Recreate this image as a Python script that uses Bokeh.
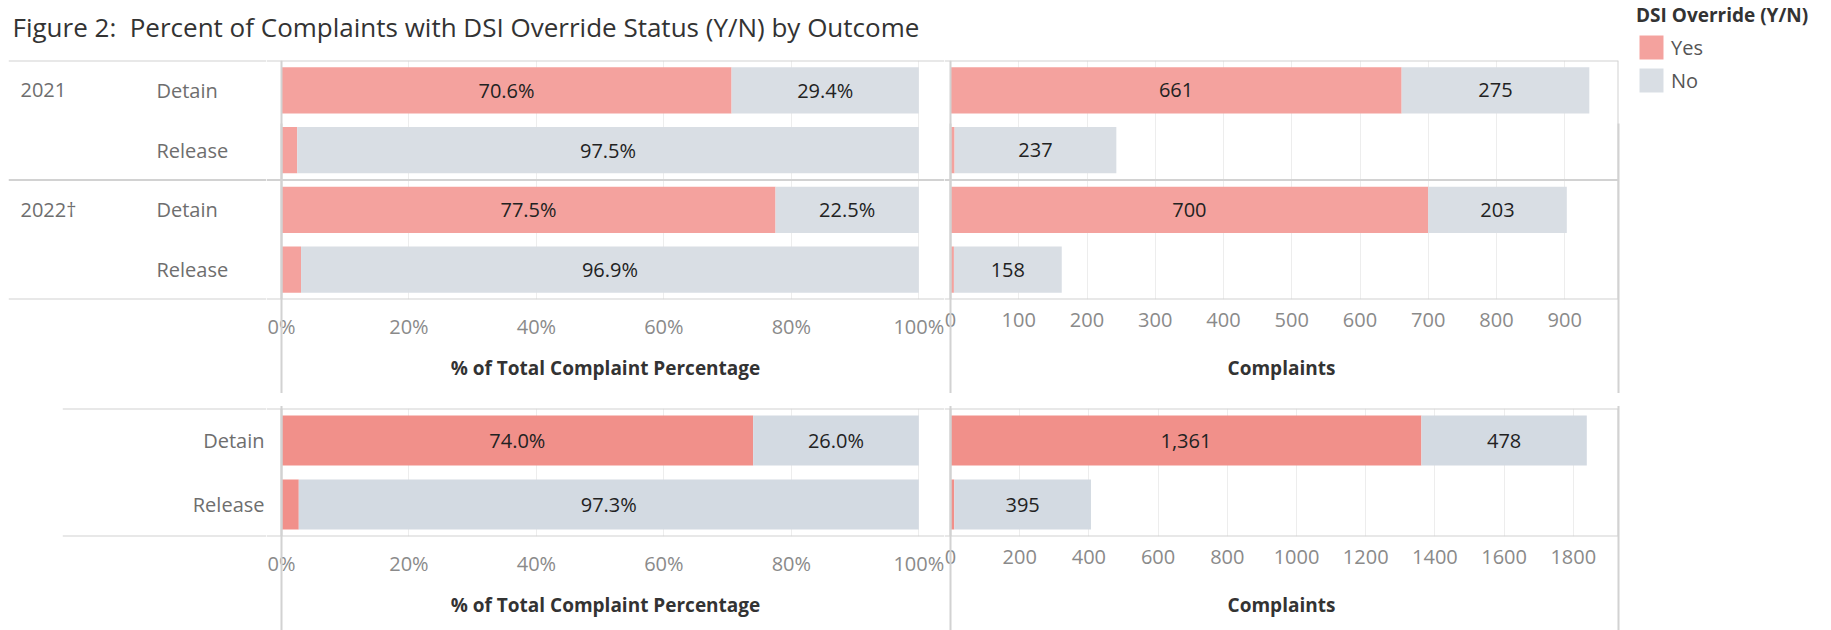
from bokeh.plotting import figure
from bokeh.models import (FactorRange, Range1d, Span, LinearAxis, FixedTicker,
                          PrintfTickFormatter, CustomJSTickFormatter, Legend, LegendItem,
                          ColumnDataSource, Spacer, Grid)
from bokeh.layouts import row, column
from bokeh.core.properties import value
from bokeh.embed import file_html
from bokeh.resources import INLINE

# ---------------- data ----------------
years = ["2021", "2022\u2020"]
outcomes = ["Detain", "Release"]
yes_2021 = [661, 6]
no_2021 = [275, 237]
yes_2022 = [700, 5]
no_2022 = [203, 158]
yes_all = [1361, 11]
no_all = [478, 395]

pct_ticks = [0, 20, 40, 60, 80, 100]
count_ticks_top = [0, 100, 200, 300, 400, 500, 600, 700, 800, 900]
count_ticks_bottom = [0, 200, 400, 600, 800, 1000, 1200, 1400, 1600, 1800]

title_text = "Figure 2:\u00a0 Percent of Complaints with DSI Override Status (Y/N) by Outcome"
legend_title = "DSI Override (Y/N)"
legend_labels = ["Yes", "No"]
pct_axis_title = "% of Total Complaint Percentage"
count_axis_title = "Complaints"

# ---------------- style ----------------
FONT = "Open Sans"
YES_TOP, NO_TOP = "#F4A29E", "#D9DEE4"
YES_BOT, NO_BOT = "#F1908A", "#D3DAE2"
LINE = "#D2D2D2"
GRID = "#EDEDED"
LABEL_GRAY = "#6E6E6E"
TICK_GRAY = "#8A8A8A"
DARK = "#333333"

# ---------------- geometry (layout only) ----------------
TOP_H, BOT_H, AX_H = 240, 129, 93
HDR_W = 266                # header column width (page x 0..266)
PX_PER_PCT = 6.373
PCT_START = -15 / PX_PER_PCT   # 0% sits at page x 281
PCT_END = 663 / PX_PER_PCT
CNT_PX_TOP = 0.6825
CNT_PX_BOT = 0.346


def base_fig(width, height, x_range, y_range, left=0, right=0, top=2, bottom=0):
    return figure(width=width, height=height, x_range=x_range, y_range=y_range,
                  output_backend="svg", toolbar_location=None,
                  x_axis_type=None, y_axis_type=None,
                  min_border_left=left, min_border_right=right,
                  min_border_top=top, min_border_bottom=bottom,
                  outline_line_color=None, background_fill_color="white",
                  border_fill_color="white")


def hlines(p, locs):
    for v in locs:
        p.add_layout(Span(location=v, dimension="width", line_color=LINE, line_width=2))


def vlines(p, locs):
    for v in locs:
        p.add_layout(Span(location=v, dimension="height", line_color=LINE, line_width=2))


def x_axis(p, ticks, label, bounds, edges, percent, label_standoff):
    ax = LinearAxis(ticker=FixedTicker(ticks=ticks),
                    bounds=bounds, axis_label=label,
                    axis_line_color=None, major_tick_line_color=None,
                    major_tick_in=0, major_tick_out=0,
                    minor_tick_line_color=None, minor_tick_in=0, minor_tick_out=0,
                    major_label_standoff=13,
                    major_label_text_font=FONT, major_label_text_font_size="20px",
                    major_label_text_color=TICK_GRAY,
                    axis_label_standoff=label_standoff,
                    axis_label_text_font=FONT, axis_label_text_font_size="19px",
                    axis_label_text_font_style="bold", axis_label_text_color=DARK)
    if percent:
        ax.formatter = PrintfTickFormatter(format="%d%%")
    p.add_layout(ax, "below")
    # pane borders running down through the axis area
    edge_ax = LinearAxis(ticker=FixedTicker(ticks=edges, minor_ticks=[]),
                         formatter=CustomJSTickFormatter(code="return ''"),
                         axis_line_color=None,
                         major_tick_in=260, major_tick_out=10,
                         major_tick_line_color=LINE, major_tick_line_width=2,
                         minor_tick_line_color=None, minor_tick_in=0, minor_tick_out=0,
                         major_label_standoff=0, major_label_text_font_size="0px")
    p.add_layout(edge_ax, "below")
    p.add_layout(Grid(dimension=0, ticker=FixedTicker(ticks=ticks),
                      grid_line_color=GRID, grid_line_width=1))


def add_bars(p, factors, yes, no, mode, yes_color, no_color, bar_h):
    tot = [a + b for a, b in zip(yes, no)]
    if mode == "pct":
        yv = [100.0 * a / t for a, t in zip(yes, tot)]
        nv = [100.0 * b / t for b, t in zip(no, tot)]
        fmt = lambda v: f"{v:.1f}%"
    else:
        yv, nv = list(yes), list(no)
        fmt = lambda v: f"{v:,}"
    ends = [a + b for a, b in zip(yv, nv)]
    src = ColumnDataSource(dict(y=factors, yes_end=yv, no_end=ends))
    p.hbar(y="y", left=0, right="yes_end", height=bar_h, fill_color=yes_color,
           line_color=None, source=src)
    p.hbar(y="y", left="yes_end", right="no_end", height=bar_h, fill_color=no_color,
           line_color=None, source=src)
    lx, ly, lt = [], [], []
    for f, a, b, t, y_, n_ in zip(factors, yes, no, tot, yv, nv):
        if a / t >= 0.1:
            lx.append(y_ / 2.0); ly.append(f); lt.append(fmt(y_))
        if b / t >= 0.1:
            lx.append(y_ + n_ / 2.0); ly.append(f); lt.append(fmt(n_))
    lab = ColumnDataSource(dict(x=lx, y=ly, text=lt))
    p.text(x="x", y="y", text="text", source=lab, text_align="center",
           text_baseline="middle", text_font=value(FONT), text_font_size="20px",
           text_color="#222222")


def label_text(p, xs, ys, texts, align):
    p.text(x=xs, y=ys, text=texts, text_align=align, text_baseline="middle",
           text_font=value(FONT), text_font_size="20px", text_color=LABEL_GRAY)


# ---------------- title ----------------
tf = base_fig(1620, 58, Range1d(0, 1620), Range1d(0, 58), top=0)
tf.text(x=[12], y=[32], text=[title_text], text_align="left", text_baseline="middle",
        text_font=value(FONT), text_font_size="26px", text_color=DARK)

# ---------------- top section (by year) ----------------
top_factors = [(y, o) for y in years for o in outcomes]
top_range = list(reversed(top_factors))
top_yes = yes_2021 + yes_2022
top_no = no_2021 + no_2022

hdr = base_fig(HDR_W, 2 + TOP_H + AX_H, Range1d(8, HDR_W),
               FactorRange(factors=top_range, group_padding=0, range_padding=0),
               left=8, bottom=AX_H)
hlines(hdr, [0, 2, 4])
label_text(hdr, [20] * len(years), [(y, outcomes[0]) for y in years], years, "left")
label_text(hdr, [156] * len(top_factors), top_factors, [f[1] for f in top_factors], "left")

pct_top = base_fig(944 - HDR_W, 2 + TOP_H + AX_H, Range1d(PCT_START, PCT_END),
                   FactorRange(factors=top_range, group_padding=0, range_padding=0),
                   bottom=AX_H)
add_bars(pct_top, top_factors, top_yes, top_no, "pct", YES_TOP, NO_TOP, 0.77)
x_axis(pct_top, pct_ticks, pct_axis_title, (0, PCT_END), [0], True, 12)
hlines(pct_top, [0, 2, 4])
vlines(pct_top, [0])

cnt_end_top = 668 / CNT_PX_TOP
cnt_top = base_fig(676, 2 + TOP_H + AX_H, Range1d(-6 / CNT_PX_TOP, cnt_end_top),
                   FactorRange(factors=top_range, group_padding=0, range_padding=0),
                   right=2, bottom=AX_H)
add_bars(cnt_top, top_factors, top_yes, top_no, "count", YES_TOP, NO_TOP, 0.77)
x_axis(cnt_top, count_ticks_top, count_axis_title, (0, cnt_end_top),
       [0, cnt_end_top], False, 25)
hlines(cnt_top, [0, 2, 4])
vlines(cnt_top, [0, cnt_end_top])

# ---------------- bottom section (all years) ----------------
bot_range = list(reversed(outcomes))

hdr_bot = base_fig(HDR_W - 62, 2 + BOT_H + AX_H, Range1d(62, HDR_W),
                   FactorRange(factors=bot_range, range_padding=0), bottom=AX_H)
hlines(hdr_bot, [0, 2])
label_text(hdr_bot, [HDR_W - 2] * len(outcomes), outcomes, outcomes, "right")

pct_bot = base_fig(944 - HDR_W, 2 + BOT_H + AX_H, Range1d(PCT_START, PCT_END),
                   FactorRange(factors=bot_range, range_padding=0), bottom=AX_H)
add_bars(pct_bot, outcomes, yes_all, no_all, "pct", YES_BOT, NO_BOT, 0.78)
x_axis(pct_bot, pct_ticks, pct_axis_title, (0, PCT_END), [0], True, 12)
hlines(pct_bot, [0, 2])
vlines(pct_bot, [0])

cnt_end_bot = 668 / CNT_PX_BOT
cnt_bot = base_fig(676, 2 + BOT_H + AX_H, Range1d(-6 / CNT_PX_BOT, cnt_end_bot),
                   FactorRange(factors=bot_range, range_padding=0),
                   right=2, bottom=AX_H)
add_bars(cnt_bot, outcomes, yes_all, no_all, "count", YES_BOT, NO_BOT, 0.78)
x_axis(cnt_bot, count_ticks_bottom, count_axis_title, (0, cnt_end_bot),
       [0, cnt_end_bot], False, 25)
hlines(cnt_bot, [0, 2])
vlines(cnt_bot, [0, cnt_end_bot])

# ---------------- legend ----------------
lf = base_fig(211, 630, Range1d(0, 1), Range1d(0, 1), left=16, top=2)
# legend proxies, kept outside the visible range
r_yes = lf.hbar(y=[-5], left=[0], right=[1], height=1, fill_color=YES_TOP, line_color=None)
r_no = lf.hbar(y=[-5], left=[0], right=[1], height=1, fill_color=NO_TOP, line_color=None)
leg = Legend(items=[LegendItem(label=legend_labels[0], renderers=[r_yes]),
                    LegendItem(label=legend_labels[1], renderers=[r_no])],
             location="top_left", margin=0, padding=0,
             title=legend_title, title_text_font=FONT, title_text_font_size="19px",
             title_text_font_style="bold", title_text_color=DARK, title_standoff=4,
             label_text_font=FONT, label_text_font_size="20px", label_text_color="#555555",
             glyph_width=30, glyph_height=30, label_standoff=5, spacing=3,
             background_fill_alpha=0, border_line_color=None)
lf.add_layout(leg)

top_row = row(hdr, pct_top, cnt_top)
bottom_row = row(Spacer(width=62, height=2 + BOT_H + AX_H), hdr_bot, pct_bot, cnt_bot)
left = column(tf, top_row, Spacer(width=1620, height=13), bottom_row)
layout = row(left, lf)

open("out.html", "w").write(file_html(layout, INLINE))
